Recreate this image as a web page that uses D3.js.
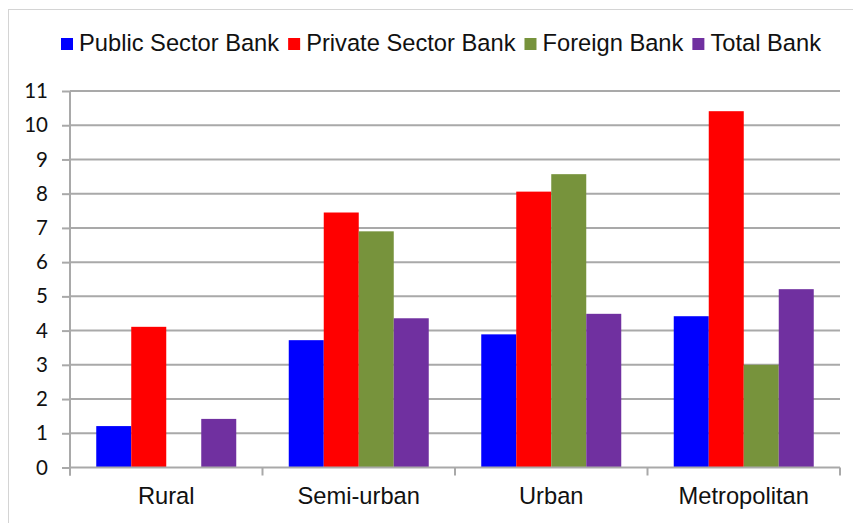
<!DOCTYPE html>
<html>
<head>
<meta charset="utf-8">
<script src="https://cdn.jsdelivr.net/npm/d3@7"></script>
<style>
  html, body { margin: 0; padding: 0; background: #fff; }
  svg { display: block; }
</style>
</head>
<body>
<svg id="chart" width="853" height="523"></svg>
<script>
// Bank groups by population area
const categories = ["Rural", "Semi-urban", "Urban", "Metropolitan"];
const seriesNames = ["Public Sector Bank", "Private Sector Bank", "Foreign Bank", "Total Bank"];
const seriesColors = ["#0000FF", "#FF0000", "#77933C", "#7030A0"];

const publicSector  = [1.21, 3.72, 3.89, 4.42];
const privateSector = [4.11, 7.45, 8.06, 10.41];
const foreignBank   = [0,    6.90, 8.57, 3.00];
const totalBank     = [1.42, 4.36, 4.49, 5.21];

const yTicks = [0, 1, 2, 3, 4, 5, 6, 7, 8, 9, 10, 11];

const seriesValues = [publicSector, privateSector, foreignBank, totalBank];

const svg = d3.select("#chart");
const W = 853, H = 523;
const margin = { left: 70, right: 13, top: 91, bottom: 55.5 };
const plotW = W - margin.left - margin.right;
const plotH = H - margin.top - margin.bottom;
const textFont = "'Liberation Sans', Arial, sans-serif";
const textSize = "23.7px";

// outer frame (clipped at right and bottom)
svg.append("rect")
  .attr("x", 8.5).attr("y", 9.5)
  .attr("width", W + 10).attr("height", H + 10)
  .attr("fill", "none").attr("stroke", "#d4d4d4").attr("stroke-width", 1);

const g = svg.append("g").attr("transform", `translate(${margin.left},${margin.top})`);

const y = d3.scaleLinear().domain([0, 11]).range([plotH, 0]);
const x0 = d3.scaleBand().domain(categories).range([0, plotW]).paddingInner(0).paddingOuter(0);
const x1 = d3.scaleBand().domain(seriesNames).range([0, x0.bandwidth()]).paddingInner(0).paddingOuter(0.75);

const gridColor = "#a9a9a9";

// horizontal gridlines
g.append("g").selectAll("line").data(yTicks.filter(t => t > 0)).join("line")
  .attr("x1", 0).attr("x2", plotW)
  .attr("y1", d => y(d)).attr("y2", d => y(d))
  .attr("stroke", gridColor).attr("stroke-width", 2);

// y axis
const yAxis = g.append("g")
  .call(d3.axisLeft(y).tickValues(yTicks).tickSize(8).tickPadding(14).tickFormat(d3.format("d")));
yAxis.select(".domain").remove();
yAxis.selectAll(".tick line").attr("stroke", gridColor).attr("stroke-width", 2);
yAxis.selectAll(".tick text")
  .attr("fill", "#111")
  .style("font-family", "Lato, 'Open Sans', sans-serif")
  .style("font-size", "20.5px");
g.append("line")
  .attr("x1", 0).attr("x2", 0).attr("y1", 0).attr("y2", plotH + 8)
  .attr("stroke", gridColor).attr("stroke-width", 2);

// bars
const rows = categories.map((c, i) => ({
  cat: c,
  vals: seriesNames.map((s, j) => ({ s, v: seriesValues[j][i], color: seriesColors[j] }))
}));
const groups = g.append("g").selectAll("g").data(rows).join("g")
  .attr("transform", d => `translate(${x0(d.cat)},0)`);
groups.selectAll("rect").data(d => d.vals).join("rect")
  .attr("x", d => x1(d.s))
  .attr("width", x1.bandwidth())
  .attr("y", d => y(d.v))
  .attr("height", d => plotH - y(d.v))
  .attr("fill", d => d.color);

// x axis baseline and category ticks
g.append("line")
  .attr("x1", 0).attr("x2", plotW).attr("y1", plotH).attr("y2", plotH)
  .attr("stroke", gridColor).attr("stroke-width", 2);
const boundaries = categories.map(c => x0(c)).concat([plotW]);
g.append("g").selectAll("line").data(boundaries).join("line")
  .attr("x1", d => d).attr("x2", d => d)
  .attr("y1", plotH).attr("y2", plotH + 8)
  .attr("stroke", gridColor).attr("stroke-width", 2);
g.append("g").selectAll("text").data(categories).join("text")
  .attr("x", d => x0(d) + x0.bandwidth() / 2)
  .attr("y", plotH + 36.5)
  .attr("text-anchor", "middle")
  .attr("fill", "#111")
  .style("font-family", textFont)
  .style("font-size", textSize)
  .text(d => d);

// legend
const legend = svg.append("g").attr("transform", "translate(61,51)");
let lx = 0;
seriesNames.forEach((name, i) => {
  const item = legend.append("g").attr("transform", `translate(${lx},0)`);
  item.append("rect").attr("x", 0).attr("y", -13).attr("width", 12).attr("height", 12)
    .attr("fill", seriesColors[i]);
  const t = item.append("text").attr("x", 18).attr("y", 0)
    .attr("fill", "#111")
    .style("font-family", textFont)
    .style("font-size", textSize)
    .text(name);
  lx += 18 + t.node().getComputedTextLength() + 9;
});
</script>
</body>
</html>
